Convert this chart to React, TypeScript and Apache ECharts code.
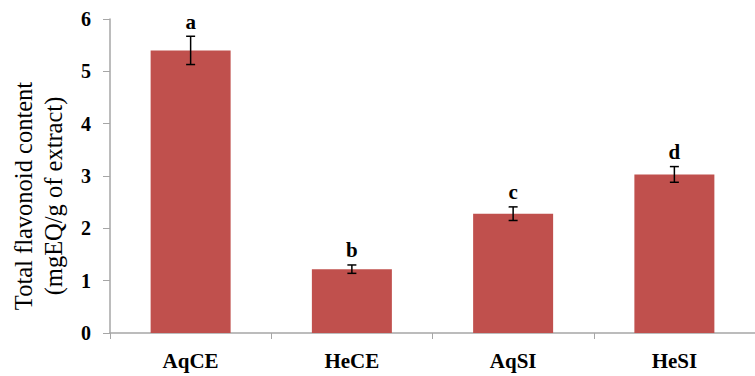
import React, { useEffect, useRef } from "react";
import * as echarts from "echarts";

// Total flavonoid content of the four extracts, mean ± error
const categories = ["AqCE", "HeCE", "AqSI", "HeSI"];
const means = [5.4, 1.22, 2.28, 3.03];
const errors = [0.27, 0.08, 0.13, 0.15];
const groupLetters = ["a", "b", "c", "d"];
const yTicks = { min: 0, max: 6, interval: 1 };
const yTitle = "Total flavonoid content\n(mgEQ/g of extract)";

const SERIF = "Liberation Serif, Times New Roman, Times, serif";
const BAR_COLOR = "#C0504D";
const AXIS_COLOR = "#A6A6A6";

export default function App() {
  const ref = useRef<HTMLDivElement>(null);

  useEffect(() => {
    if (!ref.current) return;
    const chart = echarts.init(ref.current, undefined, { renderer: "svg" });

    const errData = means.map((m, i) => [i, m, errors[i]]);

    chart.setOption({
      animation: false,
      backgroundColor: "#ffffff",
      textStyle: { fontFamily: SERIF },
      grid: { left: 110, right: -9, top: 19, bottom: 43, containLabel: false },
      xAxis: {
        type: "category",
        data: categories,
        boundaryGap: true,
        axisLine: { show: true, lineStyle: { color: AXIS_COLOR, width: 1.5 } },
        axisTick: { show: true, alignWithLabel: false, length: 6, lineStyle: { color: AXIS_COLOR } },
        axisLabel: {
          margin: 17,
          color: "#000",
          fontFamily: SERIF,
          fontWeight: "bold",
          fontSize: 21,
        },
      },
      yAxis: {
        type: "value",
        min: yTicks.min,
        max: yTicks.max,
        interval: yTicks.interval,
        name: yTitle,
        nameLocation: "middle",
        nameRotate: 90,
        nameGap: 42,
        nameTextStyle: {
          color: "#000",
          fontFamily: SERIF,
          fontSize: 24.5,
          lineHeight: 30,
          padding: [0, 40, 0, 0],
        },
        splitLine: { show: false },
        axisLine: { show: true, lineStyle: { color: AXIS_COLOR, width: 1.5 } },
        axisTick: { show: true, length: 7, lineStyle: { color: AXIS_COLOR } },
        axisLabel: {
          margin: 19,
          color: "#000",
          fontFamily: SERIF,
          fontWeight: "bold",
          fontSize: 20,
        },
      },
      series: [
        {
          type: "bar",
          data: means,
          barWidth: 80,
          itemStyle: { color: BAR_COLOR },
        },
        {
          type: "custom",
          data: errData,
          encode: { x: 0, y: 1 },
          z: 5,
          renderItem: (params: any, api: any) => {
            const idx = api.value(0);
            const v = api.value(1);
            const e = api.value(2);
            const top = api.coord([idx, v + e]);
            const bot = api.coord([idx, v - e]);
            const hw = 4.5;
            const stroke = { stroke: "#000", lineWidth: 1.5 };
            return {
              type: "group",
              children: [
                { type: "line", shape: { x1: top[0], y1: top[1], x2: bot[0], y2: bot[1] }, style: stroke },
                { type: "line", shape: { x1: top[0] - hw, y1: top[1], x2: top[0] + hw, y2: top[1] }, style: stroke },
                { type: "line", shape: { x1: bot[0] - hw, y1: bot[1], x2: bot[0] + hw, y2: bot[1] }, style: stroke },
                {
                  type: "text",
                  x: top[0],
                  y: top[1] - 4,
                  style: {
                    text: groupLetters[params.dataIndex],
                    fontFamily: SERIF,
                    fontWeight: "bold",
                    fontSize: 21,
                    fill: "#000",
                    align: "center",
                    verticalAlign: "bottom",
                  },
                },
              ],
            };
          },
        },
      ],
    });

    return () => chart.dispose();
  }, []);

  return (
    <div
      ref={ref}
      style={{ position: "fixed", left: 0, top: 0, width: 755, height: 376, background: "#fff" }}
    />
  );
}
